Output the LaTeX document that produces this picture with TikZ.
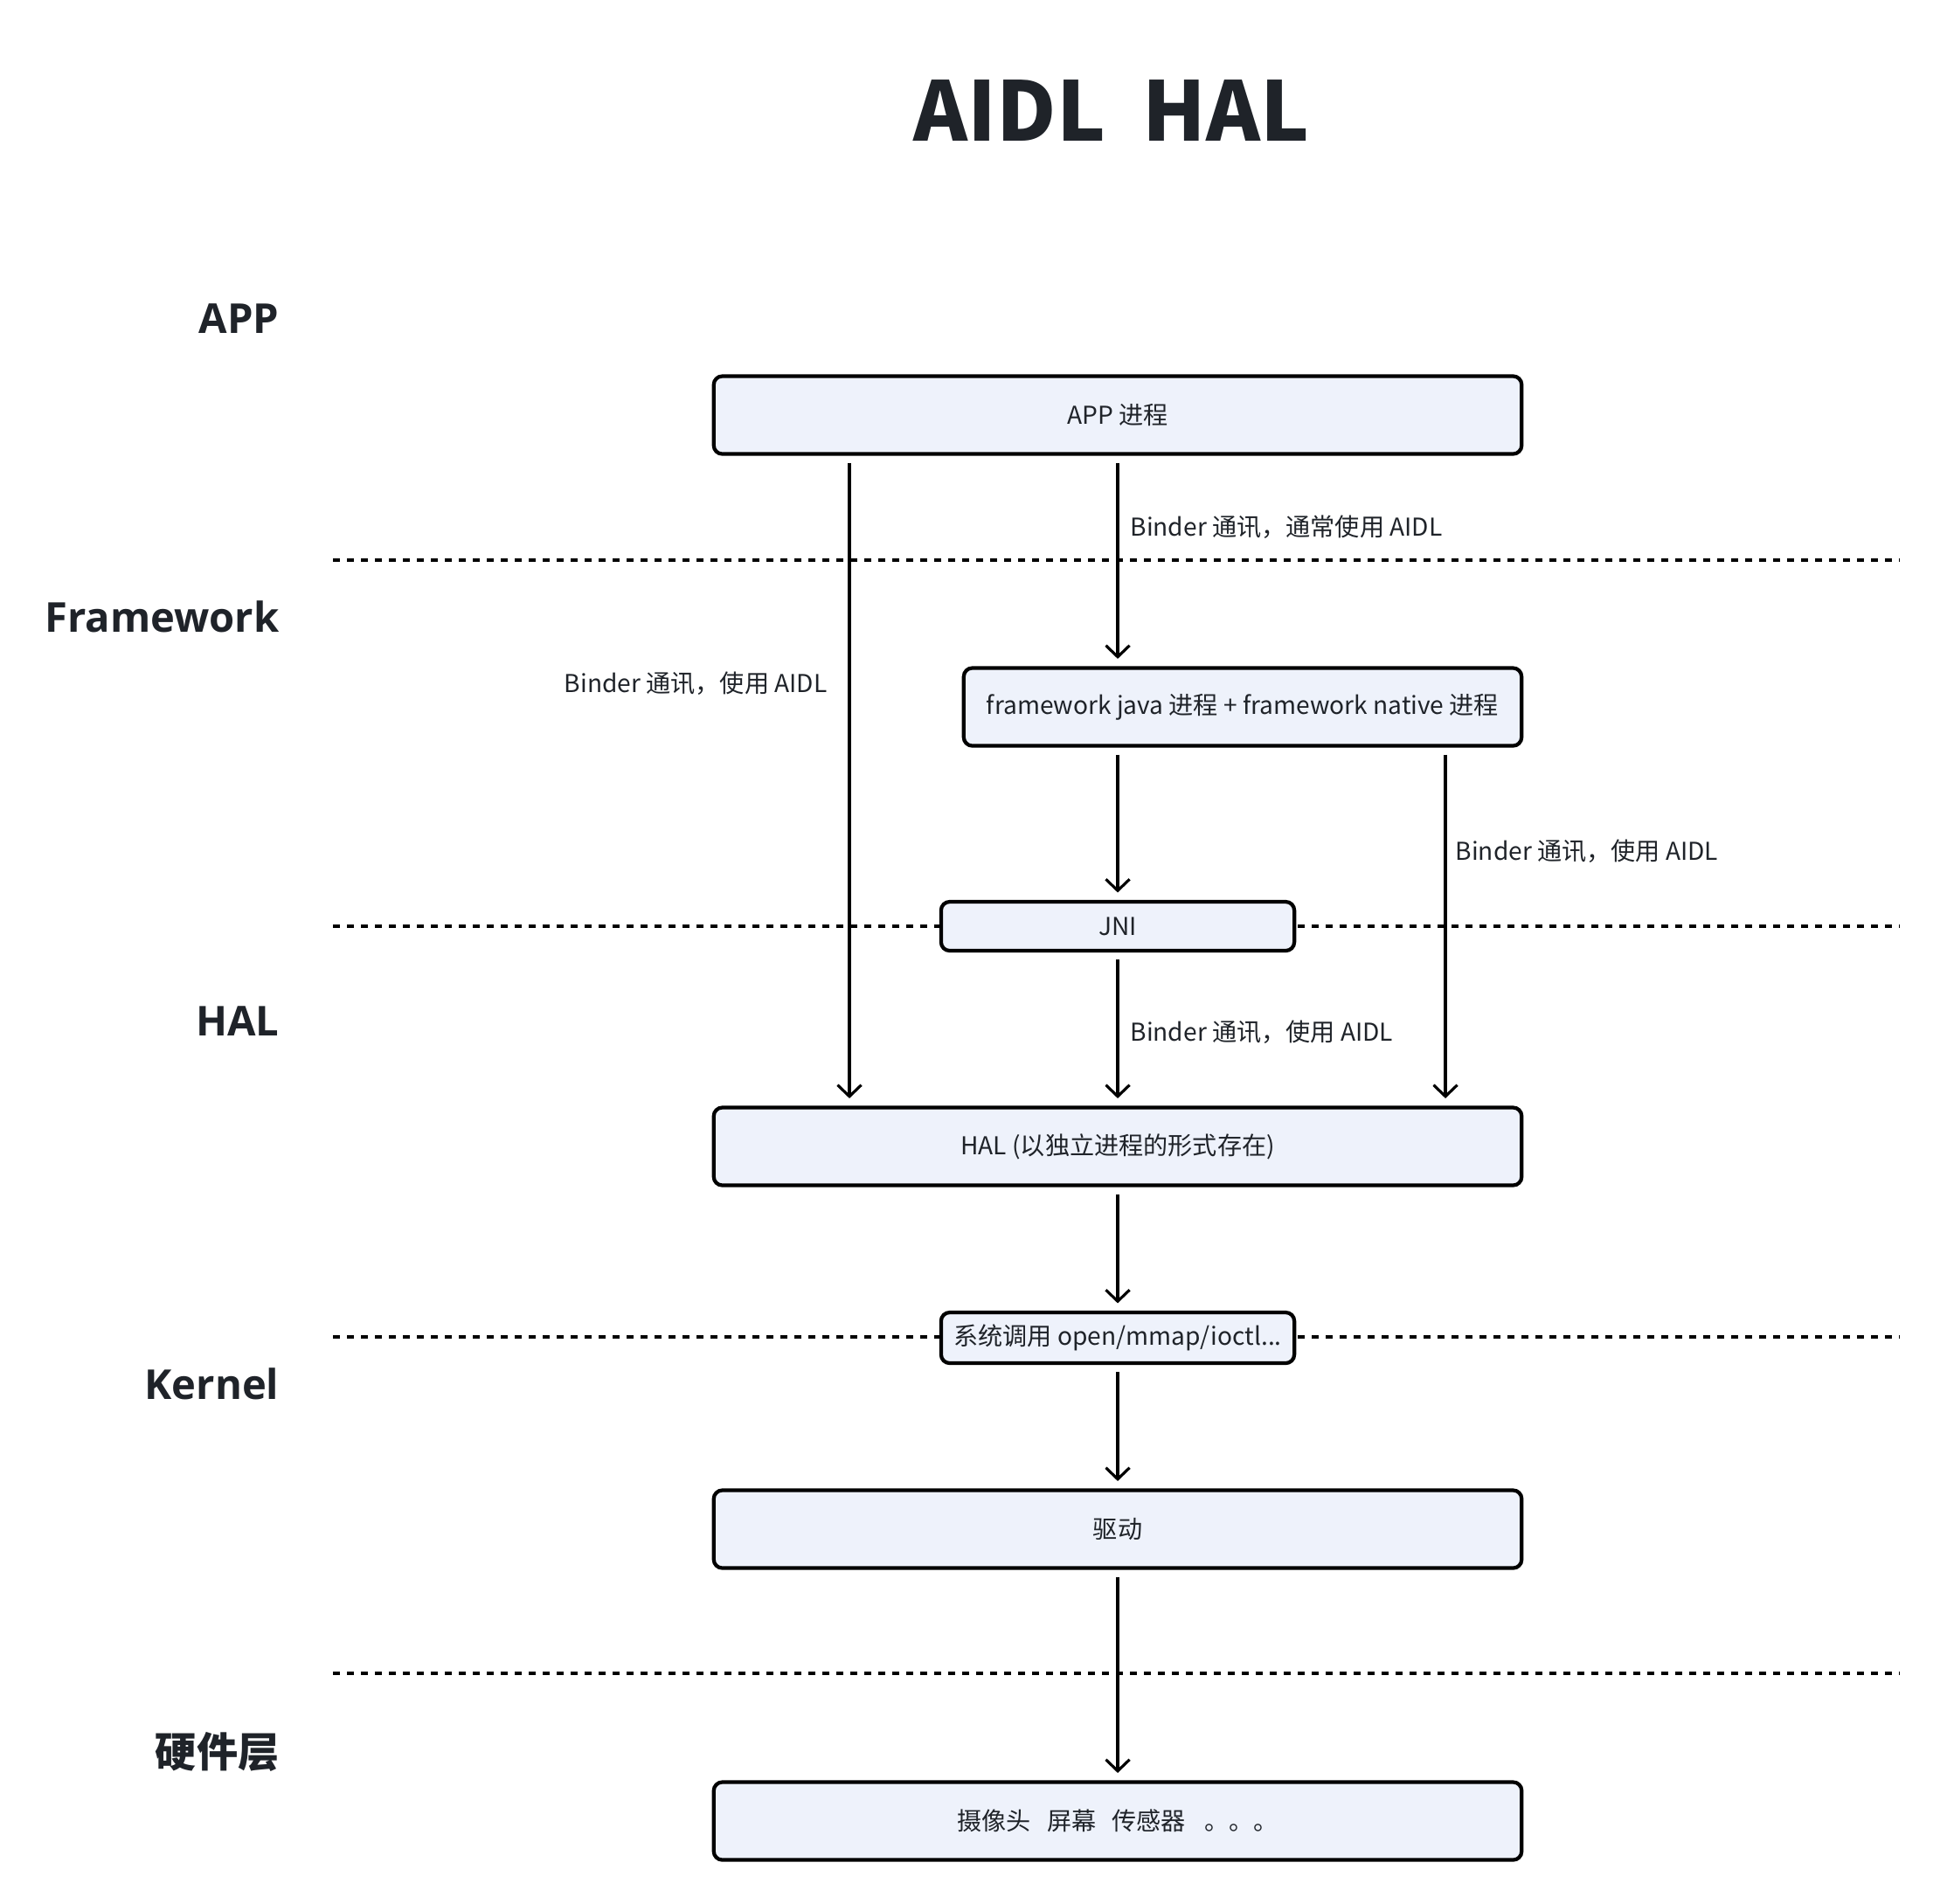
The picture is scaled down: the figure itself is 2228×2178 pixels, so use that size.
\documentclass[tikz,border=0pt]{standalone}
\usepackage{fontspec}
\setmainfont{Noto Sans CJK SC}
\newfontfamily\layerfont{Open Sans}
\usetikzlibrary{arrows.meta}

\definecolor{ink}{HTML}{1F2329}
\definecolor{boxfill}{HTML}{EEF2FB}

\tikzset{
	proc/.style={draw=black, line width=1.2pt, fill=boxfill, rounded corners=2.8pt,
		text=ink, font=\fontsize{8}{10}\selectfont, inner sep=0pt},
	flow/.style={line width=0.9pt, -{Straight Barb[length=3.7pt,width=7.7pt]},
		shorten <=2.3pt, shorten >=2.4pt},
	layer/.style={line width=0.95pt, dash pattern=on 2.3pt off 2.25pt},
	tag/.style={text=ink, font=\fontsize{8}{10}\selectfont, inner sep=0pt},
	level/.style={text=ink, font=\layerfont\bfseries\fontsize{13.4}{15}\selectfont,
		anchor=east, inner sep=0pt}
}

\begin{document}
\begin{tikzpicture}[x=0.01cm,y=-0.01cm]
	\useasboundingbox (0,0) rectangle (2228,2178);

	% title
	\node[text=ink, font=\bfseries\fontsize{26.7}{30}\selectfont] (title) at (1272,127) {AIDL\hspace{0.45em}HAL};

	%---------------------
	% layers
	%---------------------
	\node[level] (lvapp) at (320,365) {APP};
	\node[level] (lvfw) at (320,706) {Framework};
	\node[level] (lvhal) at (320,1169) {HAL};
	\node[level] (lvkern) at (320,1584) {Kernel};
	\node[level, font=\bfseries\fontsize{13.4}{15}\selectfont] (lvhw) at (320,2005) {硬件层};

	\draw[layer] (381,641) -- (2174,641);
	\draw[layer] (381,1060) -- (2174,1060);
	\draw[layer] (381,1530) -- (2174,1530);
	\draw[layer] (381,1915) -- (2174,1915);

	%---------------------
	% processes
	%---------------------
	\node[proc, minimum width=9.24cm, minimum height=0.89cm] (app) at (1279,475) {APP 进程};
	\node[proc, minimum width=6.38cm, minimum height=0.89cm] (fw) at (1422,809)
		{framework java 进程 + framework native 进程};
	\node[proc, minimum width=4.04cm, minimum height=0.56cm] (jni) at (1279,1060) {JNI};
	\node[proc, minimum width=9.24cm, minimum height=0.89cm] (hal) at (1279,1312) {HAL (以独立进程的形式存在)};
	\node[proc, minimum width=4.04cm, minimum height=0.58cm] (sys) at (1279,1531) {系统调用 open/mmap/ioctl...};
	\node[proc, minimum width=9.24cm, minimum height=0.89cm] (drv) at (1279,1750) {驱动};
	\node[proc, minimum width=9.24cm, minimum height=0.89cm] (hw) at (1279,2084)
		{摄像头\hspace{0.65em}屏幕\hspace{0.65em}传感器\hspace{0.75em}。。。};

	%---------------------
	% calls
	%---------------------
	\coordinate (lx) at (972,0);
	\coordinate (rx) at (1654,0);

	% app -> hal
	\draw[flow] (app.south -| lx) -- (hal.north -| lx)
		node[tag, pos=0.35, anchor=east, xshift=-0.24cm] {Binder 通讯，使用 AIDL};
	% app -> framework
	\draw[flow] (app.south) -- (fw.north -| app.south)
		node[tag, pos=0.34, anchor=west, xshift=0.13cm] {Binder 通讯，通常使用 AIDL};
	% framework -> jni
	\draw[flow] (fw.south -| jni.north) -- (jni.north);
	% framework -> hal
	\draw[flow] (fw.south -| rx) -- (hal.north -| rx)
		node[tag, pos=0.29, anchor=west, xshift=0.1cm] {Binder 通讯，使用 AIDL};
	% jni -> hal
	\draw[flow] (jni.south) -- (hal.north)
		node[tag, pos=0.52, anchor=west, xshift=0.13cm] {Binder 通讯，使用 AIDL};
	% hal -> kernel -> hardware
	\draw[flow] (hal.south) -- (sys.north);
	\draw[flow] (sys.south) -- (drv.north);
	\draw[flow] (drv.south) -- (hw.north);

\end{tikzpicture}
\end{document}
